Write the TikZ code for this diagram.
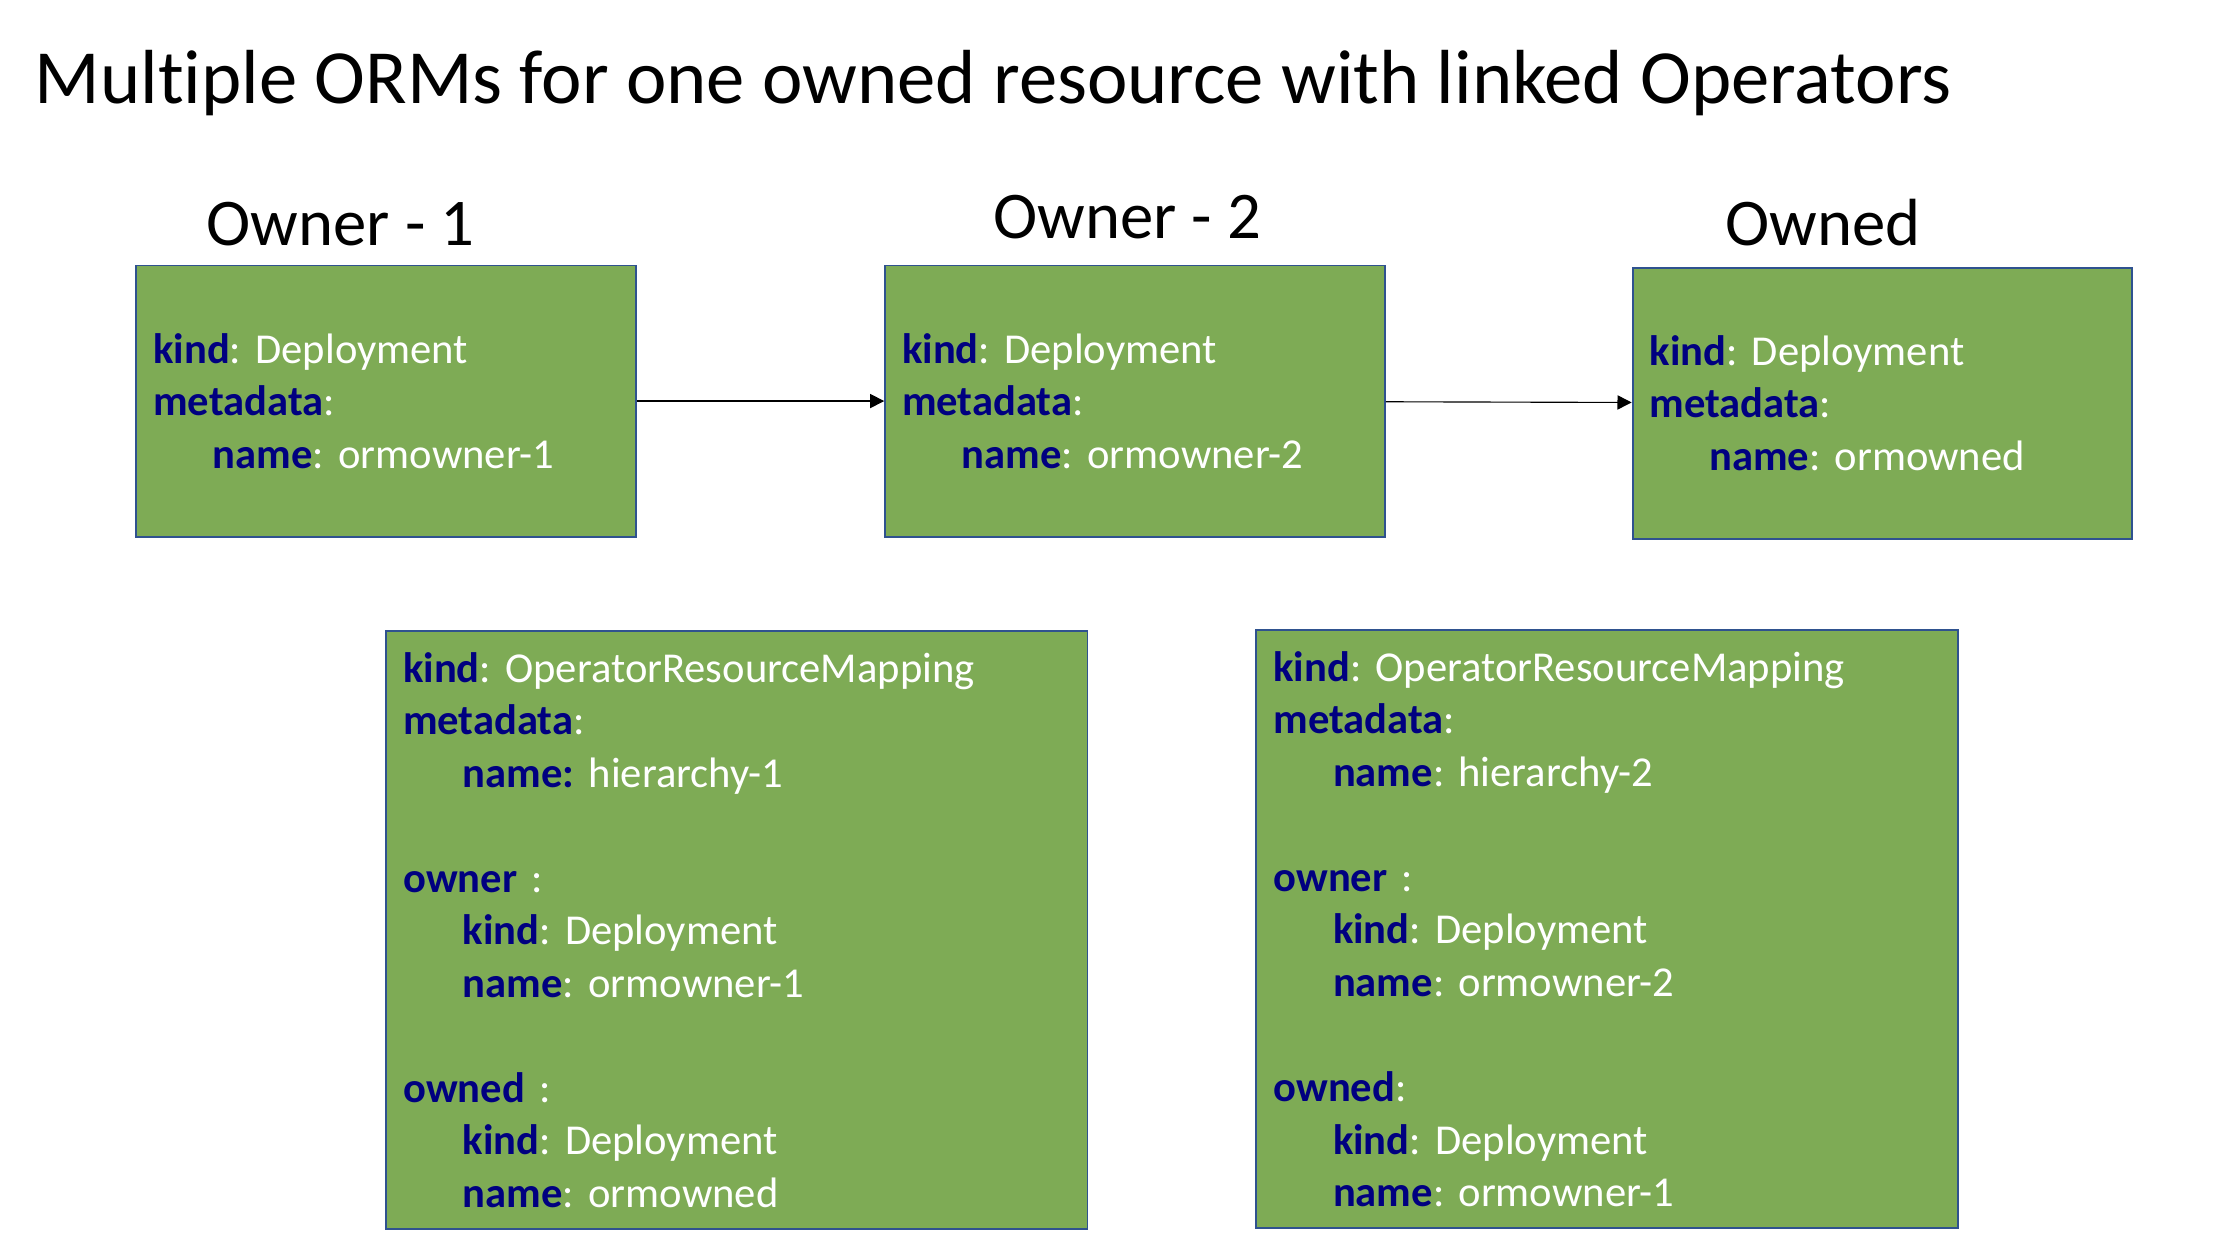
\documentclass[tikz,border=0pt]{standalone}
\usepackage{fontspec}
\setmainfont{Carlito}[Ligatures=NoCommon]
\usepackage{xcolor}
\usepackage{tikz}
\usetikzlibrary{arrows.meta, positioning}
\frenchspacing

\definecolor{boxgreen}{RGB}{126,171,85}
\definecolor{boxblue}{RGB}{47,82,143}
\definecolor{keynavy}{RGB}{0,0,128}
\newcommand{\ky}[1]{\textbf{\color{keynavy}#1}}
\newcommand{\ind}{\hspace*{42pt}}

\begin{document}
\begin{tikzpicture}[x=1pt, y=-1pt,
  yamlbox/.style={draw=boxblue, line width=1.3pt, fill=boxgreen, text=white,
    inner xsep=12pt, inner ysep=0pt, align=left,
    font=\fontsize{30}{37}\selectfont},
  topbox/.style={yamlbox, text width=328pt, minimum height=191pt},
  ormbox/.style={yamlbox, text width=470pt, minimum height=421pt},
  heading/.style={anchor=base, font=\fontsize{47}{56}\selectfont},
  link/.style={-{Triangle[length=10pt, width=10pt]}, line width=0.8pt}]
\useasboundingbox (0,0) rectangle (1568,886);

\node[anchor=base west, font=\fontsize{54}{60}\selectfont] (title) at (21,73)
  {Multiple ORMs for one owned resource with linked Operators};

% owners and owned
\node[heading] (lbl1) at (240,173) {Owner - 1};
\node[heading] (lbl2) at (794,168) {Owner - 2};
\node[heading] (lbl3) at (1284,173) {Owned};

\node[topbox] (owner1) at (272,282.5)
  {\ky{kind}: Deployment\\ \ky{metadata}:\\ \ind\ky{name}: ormowner-1};
\node[topbox] (owner2) at (799.5,282.5)
  {\ky{kind}: Deployment\\ \ky{metadata}:\\ \ind\ky{name}: ormowner-2};
\node[topbox] (owned) at (1326,284)
  {\ky{kind}: Deployment\\ \ky{metadata}:\\ \ind\ky{name}: ormowned};

\draw[link] (owner1) -- (owner2);
\draw[link] (owner2) -- (owned);

% mappings
\node[ormbox] (orm1) at (519,655)
  {\ky{kind}: OperatorResourceMapping\\ \ky{metadata}:\\
   \ind\ky{name:} hierarchy-1\\[37pt]
   \ky{owner} :\\ \ind\ky{kind}: Deployment\\ \ind\ky{name}: ormowner-1\\[37pt]
   \ky{owned} :\\ \ind\ky{kind}: Deployment\\ \ind\ky{name}: ormowned};
\node[ormbox] (orm2) at (1132,654.5)
  {\ky{kind}: OperatorResourceMapping\\ \ky{metadata}:\\
   \ind\ky{name}: hierarchy-2\\[37pt]
   \ky{owner} :\\ \ind\ky{kind}: Deployment\\ \ind\ky{name}: ormowner-2\\[37pt]
   \ky{owned}:\\ \ind\ky{kind}: Deployment\\ \ind\ky{name}: ormowner-1};
\end{tikzpicture}
\end{document}
